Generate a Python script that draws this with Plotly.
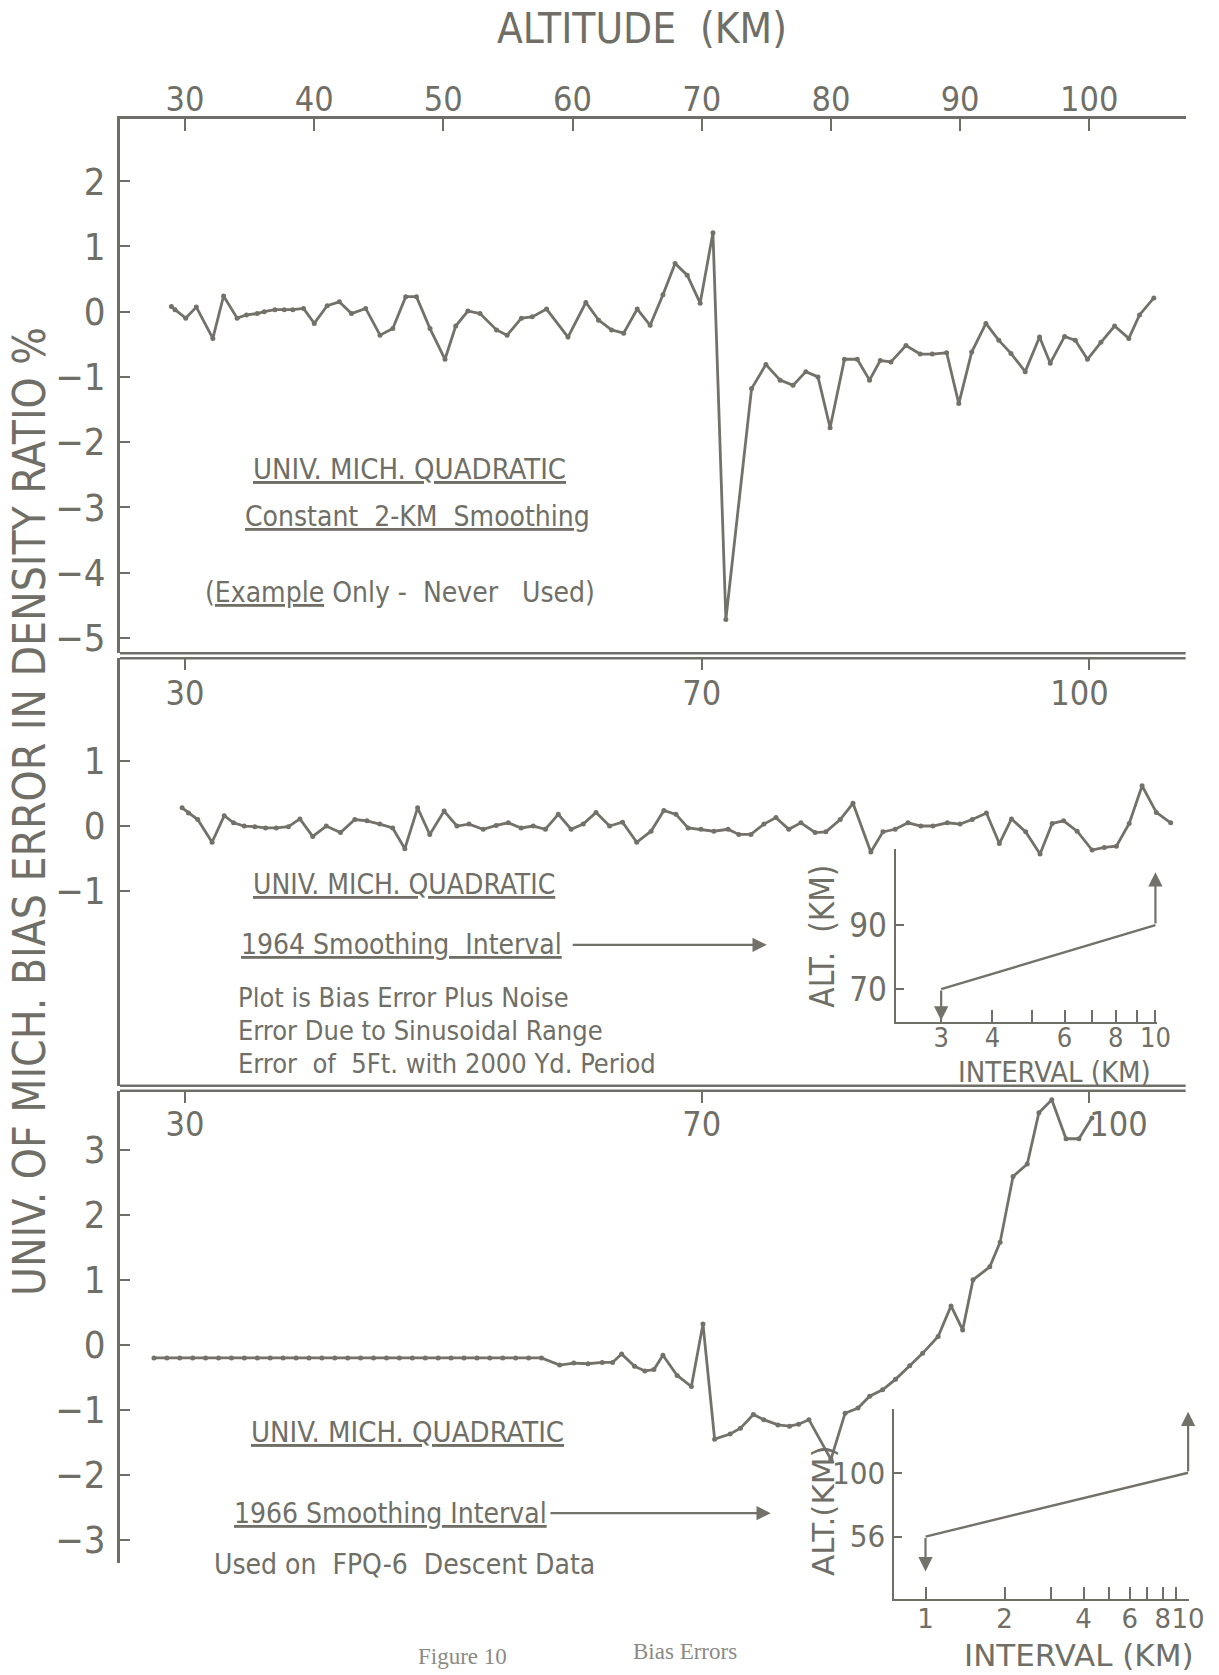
import plotly.graph_objects as go
import numpy as np

W, H = 1219, 1675

# ---------------- data ----------------
top_alt = [28.95, 29.23, 30.06, 30.88, 32.16, 32.99, 34.04, 34.76, 35.59, 36.14, 36.97, 37.69, 38.35,
           39.18, 40.01, 41.01, 41.95, 42.89, 43.99, 45.10, 46.09, 47.09, 47.92, 48.97, 50.13, 50.96,
           51.90, 52.84, 54.12, 54.94, 56.05, 56.88, 57.99, 59.65, 61.03, 62.02, 63.02, 63.96, 65.01,
           66.01, 67.00, 67.94, 68.88, 69.88, 70.87, 71.87, 73.86, 74.97, 76.07, 77.07, 78.06, 79.00,
           79.94, 81.05, 82.04, 82.99, 83.82, 84.65, 85.81, 86.91, 87.85, 88.96, 89.90, 90.90, 92.00,
           93.00, 93.94, 95.04, 96.15, 96.98, 98.09, 98.92, 99.86, 100.9, 101.96, 103.06, 103.89, 105.00]
top_err = [0.08, 0.03, -0.10, 0.07, -0.41, 0.24, -0.10, -0.05, -0.03, 0.00, 0.03, 0.03, 0.03,
           0.05, -0.18, 0.09, 0.15, -0.03, 0.05, -0.36, -0.26, 0.23, 0.23, -0.26, -0.73, -0.22,
           0.01, -0.03, -0.28, -0.36, -0.10, -0.08, 0.04, -0.39, 0.14, -0.13, -0.28, -0.33, 0.04,
           -0.21, 0.26, 0.74, 0.56, 0.13, 1.21, -4.72, -1.18, -0.81, -1.05, -1.13, -0.92, -1.00,
           -1.78, -0.73, -0.73, -1.05, -0.75, -0.77, -0.52, -0.65, -0.65, -0.63, -1.41, -0.62, -0.18,
           -0.44, -0.64, -0.92, -0.39, -0.79, -0.38, -0.44, -0.73, -0.47, -0.22, -0.41, -0.05, 0.21]

mid_alt = [29.78, 30.28, 30.99, 32.10, 33.04, 33.76, 34.59, 35.41, 36.24, 37.07, 38.01, 38.90, 39.89,
           40.94, 42.04, 43.15, 44.09, 45.08, 46.08, 47.02, 48.01, 48.95, 50.06, 51.05, 51.99, 53.09,
           54.09, 55.03, 56.02, 56.96, 57.90, 58.90, 59.89, 60.83, 61.82, 62.87, 63.87, 64.97, 66.08,
           67.07, 68.01, 68.95, 69.94, 70.94, 72.04, 72.87, 73.81, 74.81, 75.75, 76.74, 77.68, 78.78,
           79.61, 80.72, 81.71, 83.09, 84.03, 84.97, 85.97, 86.96, 87.90, 89.01, 90.00, 90.94, 92.04,
           93.04, 93.98, 95.08, 96.19, 97.13, 98.01, 99.06, 100.22, 101.16, 102.10, 103.09, 104.09,
           105.19, 106.30]
mid_err = [0.28, 0.20, 0.10, -0.25, 0.16, 0.05, 0.00, -0.01, -0.03, -0.03, -0.01, 0.11, -0.16,
           0.00, -0.10, 0.10, 0.08, 0.03, -0.03, -0.35, 0.28, -0.13, 0.23, 0.00, 0.03, -0.05,
           0.01, 0.05, -0.03, 0.00, -0.05, 0.18, -0.05, 0.03, 0.21, 0.00, 0.06, -0.25, -0.08,
           0.24, 0.18, -0.03, -0.05, -0.08, -0.05, -0.13, -0.13, 0.03, 0.13, -0.05, 0.05, -0.10,
           -0.09, 0.10, 0.35, -0.40, -0.09, -0.05, 0.05, 0.00, 0.00, 0.05, 0.03, 0.10, 0.20,
           -0.27, 0.11, -0.09, -0.43, 0.04, 0.08, -0.08, -0.37, -0.33, -0.31, 0.04, 0.62,
           0.21, 0.05]

bot_alt = [27.6, 28.6, 29.6, 30.6, 31.6, 32.6, 33.6, 34.6, 35.6, 36.6, 37.6, 38.6, 39.6, 40.6, 41.6,
           42.6, 43.6, 44.6, 45.6, 46.6, 47.6, 48.6, 49.6, 50.6, 51.6, 52.6, 53.6, 54.6, 55.6, 56.6,
           57.6, 59.0, 60.1, 61.2, 62.3, 63.1, 63.8, 64.8, 65.6, 66.3, 67.0, 68.1, 69.2, 70.1, 71.0,
           72.2, 73.0, 74.0, 74.8, 75.9, 76.8, 77.5, 78.3, 80.0, 81.1, 82.1, 83.0, 84.0, 85.0, 86.1,
           87.1, 88.3, 89.3, 90.2, 91.0, 92.3, 93.1, 94.1, 95.2, 96.1, 97.1, 98.2, 99.2, 100.2]
bot_err = [-0.20, -0.20, -0.20, -0.20, -0.20, -0.20, -0.20, -0.20, -0.20, -0.20, -0.20, -0.20, -0.20,
           -0.20, -0.20, -0.20, -0.20, -0.20, -0.20, -0.20, -0.20, -0.20, -0.20, -0.20, -0.20, -0.20,
           -0.20, -0.20, -0.20, -0.20, -0.20, -0.31, -0.28, -0.29, -0.27, -0.27, -0.14, -0.33, -0.40,
           -0.38, -0.16, -0.47, -0.64, 0.32, -1.45, -1.37, -1.28, -1.07, -1.15, -1.23, -1.25, -1.22,
           -1.15, -1.76, -1.05, -0.97, -0.79, -0.69, -0.53, -0.32, -0.13, 0.13, 0.60, 0.23, 1.00,
           1.20, 1.58, 2.59, 2.78, 3.57, 3.77, 3.17, 3.17, 3.49]

top_xticks = [30, 40, 50, 60, 70, 80, 90, 100]
top_xlabels = ['30', '40', '50', '60', '70', '80', '90', '100']
sub_xticks = [30, 70, 100]
mid_xlabels = ['30', '70', '100\u2007']
bot_xlabels = ['30', '70', '\u2007\u2007\u2007100']
top_yticks = [2, 1, 0, -1, -2, -3, -4, -5]
mid_yticks = [1, 0, -1]
bot_yticks = [3, 2, 1, 0, -1, -2, -3]

# smoothing-interval schedules (interval km vs altitude km)
ins1_interval = [3, 3, 10, 10]
ins1_alt = [60.2, 70, 90, 106.5]
ins1_xticks = [3, 4, 5, 6, 7, 8, 9, 10]
ins1_xlabels = ['3', '4', '', '6', '', '8', '', '10']
ins1_yticks = [70, 90]

ins2_interval = [1, 1, 10, 10]
ins2_alt = [32, 56, 100, 142]
ins2_xticks = [1, 2, 3, 4, 5, 6, 7, 8, 9, 10]
ins2_xlabels = ['1', '2', '', '4', '', '6', '', '8', '', '10']
ins2_yticks = [56, 100]

# ---------------- style ----------------
INK = '#6f6f67'
LINE = '#72726a'
FONT = "Liberation Sans Narrow, DejaVu Sans Condensed, Arial Narrow, Roboto, sans-serif"
WIDEFONT = "DejaVu Sans, Verdana, sans-serif"
SX, SY = 1.013, 1.003


def px(x):
    return x * SX / W


def py(y):
    return 1 - y * SY / H


def ylab(v):
    return ('\u2212' + str(-v)) if v < 0 else str(v)


fig = go.Figure()

series = [(top_alt, top_err, 'x', 'y'), (mid_alt, mid_err, 'x2', 'y2'), (bot_alt, bot_err, 'x3', 'y3')]
for a, e, xa, ya in series:
    fig.add_trace(go.Scatter(x=a, y=e, xaxis=xa, yaxis=ya, mode='lines+markers',
                             line=dict(color=LINE, width=2.8),
                             marker=dict(color=LINE, size=5), hoverinfo='skip'))

# inset schedules: sloping segment as a trace, vertical legs as arrows
fig.add_trace(go.Scatter(x=ins1_interval[1:3], y=ins1_alt[1:3], xaxis='x4', yaxis='y4', mode='lines',
                         line=dict(color=LINE, width=2.4), hoverinfo='skip'))
fig.add_trace(go.Scatter(x=ins2_interval[1:3], y=ins2_alt[1:3], xaxis='x5', yaxis='y5', mode='lines',
                         line=dict(color=LINE, width=2.4), hoverinfo='skip'))

xdom = [px(120), px(1186)]
xr = [24.97, 107.46]
common_x = dict(range=xr, domain=xdom, showgrid=False, zeroline=False, ticks='inside', ticklen=12,
                tickwidth=2, tickcolor=INK, tickangle=0, tickfont=dict(family=FONT, size=34, color=INK))
common_y = dict(showgrid=False, zeroline=False, ticks='inside', ticklen=10, tickwidth=2, tickcolor=INK,
                showline=True, linewidth=2.5, linecolor=INK,
                tickfont=dict(family=FONT, size=38, color=INK), ticklabelstandoff=4)

fig.update_layout(
    width=W, height=H, margin=dict(l=0, r=0, t=0, b=0),
    paper_bgcolor='white', plot_bgcolor='rgba(0,0,0,0)', showlegend=False,
    xaxis=dict(common_x, anchor='y', side='top', showline=True, linewidth=2.5, linecolor=INK,
               tickvals=top_xticks, ticktext=top_xlabels, ticklabelstandoff=-8),
    yaxis=dict(common_y, domain=[py(654), py(119)], range=[-5.237, 2.956], anchor='x',
               tickvals=top_yticks, ticktext=[ylab(v) for v in top_yticks]),
    xaxis2=dict(common_x, anchor='y2', side='top', showline=False, ticklabelposition='inside',
                tickvals=sub_xticks, ticktext=mid_xlabels, ticklabelstandoff=15),
    yaxis2=dict(common_y, domain=[py(1087), py(659)], range=[-4.0, 2.585], anchor='x2',
                tickvals=mid_yticks, ticktext=[ylab(v) for v in mid_yticks]),
    xaxis3=dict(common_x, anchor='y3', side='top', showline=False, ticklabelposition='inside',
                tickvals=sub_xticks, ticktext=bot_xlabels, ticklabelstandoff=13),
    yaxis3=dict(common_y, domain=[py(1565), py(1092)], range=[-3.356, 3.909], anchor='x3',
                tickvals=bot_yticks, ticktext=[ylab(v) for v in bot_yticks]),
    xaxis4=dict(type='log', domain=[px(896), px(1157)], range=[0.3663, 1.003], anchor='y4',
                showgrid=False, zeroline=False, showline=True, linewidth=2.4, linecolor=INK,
                ticks='inside', ticklen=12, tickwidth=2, tickcolor=INK, tickangle=0,
                tickvals=ins1_xticks, ticktext=ins1_xlabels, ticklabelstandoff=-9,
                tickfont=dict(family=FONT, size=27, color=INK)),
    yaxis4=dict(domain=[py(1023), py(850)], range=[59.8, 113.75], anchor='x4',
                showgrid=False, zeroline=False, showline=True, linewidth=2.4, linecolor=INK,
                ticks='inside', ticklen=8, tickwidth=2, tickcolor=INK,
                tickvals=ins1_yticks, ticktext=[str(v) for v in ins1_yticks],
                tickfont=dict(family=FONT, size=33, color=INK)),
    xaxis5=dict(type='log', domain=[px(894), px(1189)], range=[-0.121, 1.002], anchor='y5',
                showgrid=False, zeroline=False, showline=True, linewidth=2.4, linecolor=INK,
                ticks='inside', ticklen=12, tickwidth=2, tickcolor=INK, tickangle=0,
                tickvals=ins2_xticks, ticktext=ins2_xlabels, ticklabelstandoff=-4,
                tickfont=dict(family=WIDEFONT, size=26, color=INK)),
    yaxis5=dict(domain=[py(1601), py(1411)], range=[12.9, 143.7], anchor='x5',
                showgrid=False, zeroline=False, showline=True, linewidth=2.4, linecolor=INK,
                ticks='inside', ticklen=8, tickwidth=2, tickcolor=INK,
                tickvals=ins2_yticks, ticktext=[str(v) for v in ins2_yticks],
                tickfont=dict(family=FONT, size=31, color=INK)),
)

# double separator lines between panels
shapes = []
for yy in (654, 659, 1087, 1092):
    shapes.append(dict(type='line', xref='paper', yref='paper', x0=px(120), x1=px(1186),
                       y0=py(yy), y1=py(yy), line=dict(color=INK, width=2.6)))
fig.update_layout(shapes=shapes)

ann = []


def txt(t, x, y, size=28, anchor='center', angle=0, family=FONT, color=INK):
    ann.append(dict(text=t, x=px(x), y=py(y), xref='paper', yref='paper', showarrow=False,
                    xanchor=anchor, yanchor='middle', textangle=angle,
                    font=dict(family=family, size=size, color=color)))


def paper_arrow(x0, x1, y):
    # horizontal arrow in page pixels, tail at x0, head at x1
    ann.append(dict(text='', x=px(x1), y=py(y), xref='paper', yref='paper',
                    ax=(x0 - x1) * SX, ay=0, axref='pixel', ayref='pixel',
                    showarrow=True, arrowhead=2, arrowsize=1.3, arrowwidth=2.2, arrowcolor=LINE))


def data_arrow(x0, y0, x1, y1, xa, ya):
    ann.append(dict(text='', x=x1, y=y1, ax=x0, ay=y0, xref=xa, yref=ya, axref=xa, ayref=ya,
                    showarrow=True, arrowhead=2, arrowsize=1.3, arrowwidth=2.2, arrowcolor=LINE))


txt('ALTITUDE  (KM)', 642, 29, size=42)
txt('UNIV. OF MICH. BIAS ERROR IN DENSITY RATIO %', 29, 812, size=44, angle=-90)

txt('<u>UNIV. MICH. QUADRATIC</u>', 410, 470, size=29)
txt('<u>Constant  2-KM  Smoothing</u>', 418, 517, size=28)
txt('(<u>Example</u> Only -  Never   Used)', 400, 593, size=28)

txt('<u>UNIV. MICH. QUADRATIC</u>', 404, 886, size=28)
txt('<u>1964 Smoothing  Interval</u>', 402, 946, size=28)
paper_arrow(574, 767, 946)
txt('Plot is Bias Error Plus Noise', 236, 999, size=27, anchor='left')
txt('Error Due to Sinusoidal Range', 236, 1032, size=27, anchor='left')
txt('Error  of  5Ft. with 2000 Yd. Period', 236, 1065, size=27, anchor='left')

txt('<u>UNIV. MICH. QUADRATIC</u>', 408, 1434, size=29)
txt('<u>1966 Smoothing Interval</u>', 391, 1515, size=28)
paper_arrow(552, 771, 1515)
txt('Used on  FPQ-6  Descent Data', 405, 1566, size=28)

# inset labels
txt('ALT.  (KM)', 823, 937, size=33, angle=-90)
txt('INTERVAL (KM)', 1055, 1073, size=29)
txt('ALT.(KM)', 823, 1512, size=31, angle=-90, family=WIDEFONT)
txt('INTERVAL (KM)', 1079, 1657, size=31, family=WIDEFONT)

# inset arrows along the schedule (log axes take log10 coordinates)
l1 = np.log10(ins1_interval)
data_arrow(l1[1], ins1_alt[1], l1[0], ins1_alt[0], 'x4', 'y4')
data_arrow(l1[2], ins1_alt[2], l1[3], ins1_alt[3], 'x4', 'y4')
l2 = np.log10(ins2_interval)
data_arrow(l2[1], ins2_alt[1], l2[0], ins2_alt[0], 'x5', 'y5')
data_arrow(l2[2], ins2_alt[2], l2[3], ins2_alt[3], 'x5', 'y5')

# caption
txt('Figure 10', 463, 1658, size=23, family='Liberation Serif, DejaVu Serif, serif', color='#8a8a86')
txt('Bias Errors', 685, 1653, size=23, family='Liberation Serif, DejaVu Serif, serif', color='#8a8a86')

fig.update_layout(annotations=ann)
fig.write_html("out.html")
